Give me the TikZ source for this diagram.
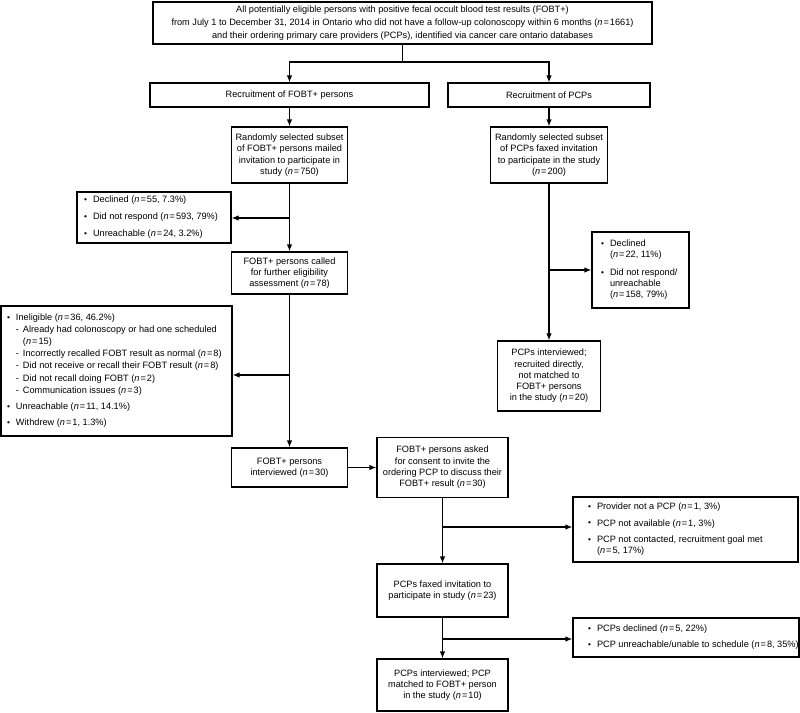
\documentclass[tikz,border=0pt]{standalone}
\usepackage{fontspec}
\setmainfont{Liberation Sans}
\usetikzlibrary{arrows.meta,calc}
\newcommand\nn{\textit{n}\kern1pt=\kern1pt}
\newcommand\bul{\raisebox{0.05ex}{\scalebox{0.9}{\textbullet}}}
\newcommand\bi[1]{\makebox[9pt][l]{\bul}#1}
\newcommand\di[1]{\makebox[7pt][l]{-}#1}
\newcommand\lst[3]{\makebox[#1][l]{\hspace{#2}\begin{tabular}{@{}l@{}}#3\end{tabular}}}
\begin{document}
\begin{tikzpicture}[x=1pt,y=-1pt,
  txt/.style={font=\fontsize{9.2}{11.3}\selectfont},
  box/.style={draw,line width=1.2pt,inner sep=0pt,align=center,txt},
  lbox/.style={draw,line width=1.2pt,inner sep=0pt,txt},
  ln/.style={line width=1.2pt},
  arr/.style={line width=1.2pt,-{Latex[length=7pt,width=5.5pt]}}]
\useasboundingbox (0,0) rectangle (800,712);

% top
\node[box,minimum width=499pt,minimum height=42pt,font=\fontsize{9.2}{13}\selectfont] (top) at (402.5,23)
 {All potentially eligible persons with positive fecal occult blood test results (FOBT+)\\
  from July 1 to December 31, 2014 in Ontario who did not have a follow-up colonoscopy within 6 months (\nn1661)\\
  and their ordering primary care providers (PCPs), identified via cancer care ontario databases};

\node[box,minimum width=279pt,minimum height=24pt] (recF) at (289.5,95) {Recruitment of FOBT+ persons};
\node[box,minimum width=202pt,minimum height=24pt] (recP) at (549,95) {Recruitment of PCPs};

\node[box,minimum width=116pt,minimum height=56pt] (randF) at (289.5,155)
 {Randomly selected subset\\of FOBT+ persons mailed\\invitation to participate in\\study (\nn750)};
\node[box,minimum width=117pt,minimum height=56pt] (randP) at (549,155)
 {Randomly selected subset\\of PCPs faxed invitation\\to participate in the study\\(\nn200)};

\node[lbox,minimum height=51pt] (decl) at (154,217.5)
 {\lst{154pt}{7pt}{\bi{Declined (\nn55, 7.3\%)}\\[5.5pt]
   \bi{Did not respond (\nn593, 79\%)}\\[5.5pt]
   \bi{Unreachable (\nn24, 3.2\%)}}};

\node[box,minimum width=116pt,minimum height=42pt] (called) at (289.5,273)
 {FOBT+ persons called\\for further eligibility\\assessment (\nn78)};

\node[lbox,minimum height=76pt] (declP) at (640.5,270)
 {\lst{97pt}{9pt}{\bi{Declined}\\\hspace*{9pt}(\nn22, 11\%)\\[6pt]
   \bi{Did not respond/}\\\hspace*{9pt}unreachable\\\hspace*{9pt}(\nn158, 79\%)}};

\node[box,minimum width=103pt,minimum height=70pt] (pcpInt) at (549,376)
 {PCPs interviewed;\\recruited directly,\\not matched to\\FOBT+ persons\\in the study (\nn20)};

\node[lbox,minimum height=130pt] (inel) at (116.5,371)
 {\lst{231pt}{6pt}{\bi{Ineligible (\nn36, 46.2\%)}\\[1pt]
   \hspace*{9pt}\di{Already had colonoscopy or had one scheduled}\\
   \hspace*{16pt}(\nn15)\\[1pt]
   \hspace*{9pt}\di{Incorrectly recalled FOBT result as normal (\nn8)}\\[1pt]
   \hspace*{9pt}\di{Did not receive or recall their FOBT result (\nn8)}\\[1pt]
   \hspace*{9pt}\di{Did not recall doing FOBT (\nn2)}\\[1pt]
   \hspace*{9pt}\di{Communication issues (\nn3)}\\[5pt]
   \bi{Unreachable (\nn11, 14.1\%)}\\[5pt]
   \bi{Withdrew (\nn1, 1.3\%)}}};

\node[box,minimum width=116pt,minimum height=39pt] (intF) at (289.5,467.5)
 {FOBT+ persons\\interviewed (\nn30)};
\node[box,minimum width=131pt,minimum height=60pt] (asked) at (442.5,467.5)
 {FOBT+ persons asked\\for consent to invite the\\ordering PCP to discuss their\\FOBT+ result (\nn30)};

\node[lbox,minimum height=65pt] (prov) at (685.5,529.5)
 {\lst{225pt}{15pt}{\bi{Provider not a PCP (\nn1, 3\%)}\\[5pt]
   \bi{PCP not available (\nn1, 3\%)}\\[5pt]
   \bi{PCP not contacted, recruitment goal met}\\\hspace*{9pt}(\nn5, 17\%)}};

\node[box,minimum width=131pt,minimum height=53pt] (faxed) at (442.5,590.5)
 {PCPs faxed invitation to\\participate in study (\nn23)};

\node[lbox,minimum height=39pt] (declF) at (686,637.5)
 {\lst{226pt}{15pt}{\bi{PCPs declined (\nn5, 22\%)}\\[5pt]
   \bi{PCP unreachable/unable to schedule (\nn8, 35\%)}}};

\node[box,minimum width=131pt,minimum height=52pt] (final) at (442.5,685)
 {PCPs interviewed; PCP\\matched to FOBT+ person\\in the study (\nn10)};

% connectors
\coordinate (j0) at (402.5,62);
\draw[ln] (top.south) -- (j0);
\draw[arr] (j0) -| (recF.north);
\draw[arr] (j0) -| (recP.north);
\draw[arr] (recF) -- (randF);
\draw[arr] (recP) -- (randP);

\draw[arr] (randF) -- (called);
\coordinate (b1) at (289.5,218);
\draw[arr] (b1) -- (decl.east |- b1);

\draw[arr] (randP) -- (pcpInt);
\coordinate (b2) at (549,270);
\draw[arr] (b2) -- (declP.west |- b2);

\draw[arr] (called) -- (intF);
\coordinate (b3) at (289.5,375);
\draw[arr] (b3) -- (inel.east |- b3);

\draw[arr] (intF) -- (asked);

\draw[arr] (asked) -- (faxed);
\coordinate (b4) at (442.5,527);
\draw[arr] (b4) -- (prov.west |- b4);

\draw[arr] (faxed) -- (final);
\coordinate (b5) at (442.5,639);
\draw[arr] (b5) -- (declF.west |- b5);
\end{tikzpicture}
\end{document}
